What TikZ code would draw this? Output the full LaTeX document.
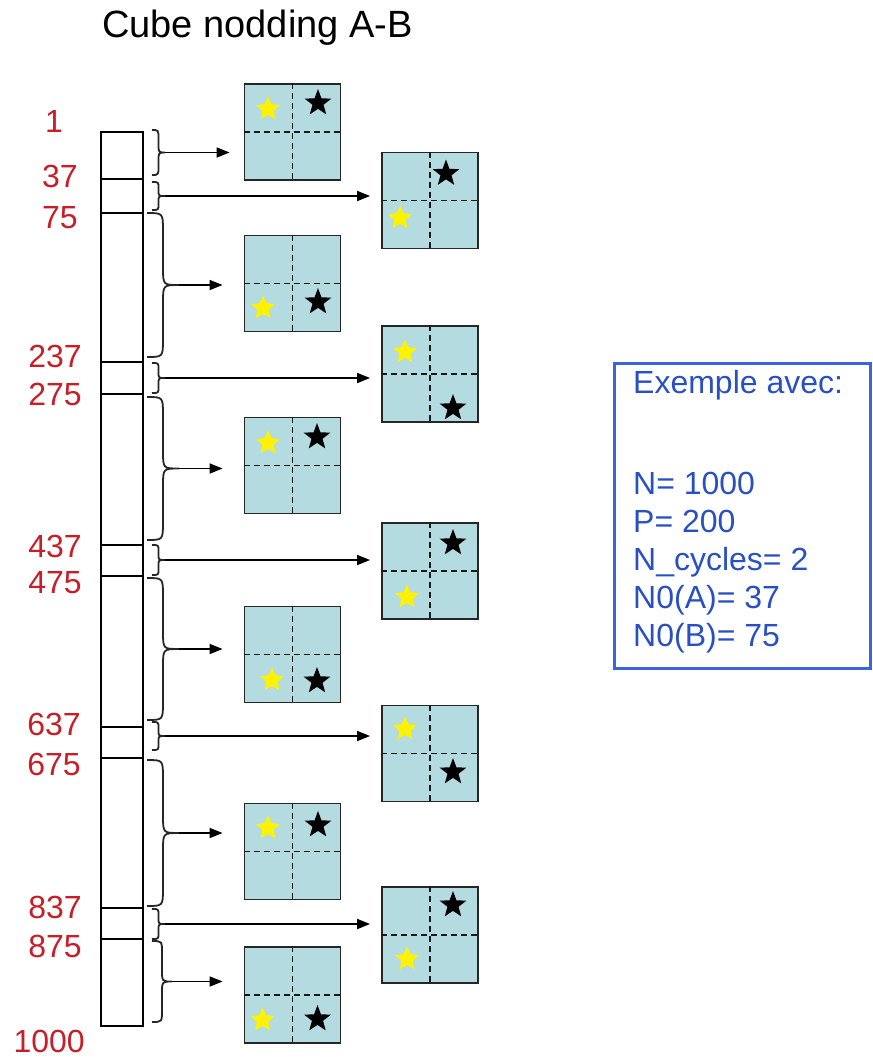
\documentclass[tikz,border=0pt]{standalone}
\usepackage{fontspec}
\setmainfont{Liberation Sans}
\usepackage{xcolor}
\usepackage{tikz}
\usetikzlibrary{arrows.meta,shapes.geometric,calc}

\definecolor{cubefill}{RGB}{180,219,224}
\definecolor{labred}{RGB}{200,30,40}
\definecolor{boxblue}{RGB}{60,100,225}
\definecolor{txtblue}{RGB}{40,80,195}

% one square of the grid, split in four by dashed lines
\newcommand{\gridsq}[3]{%
  \node[sq] (#1) at (#2,#3) {};
  \draw[cut] (#1.north) -- (#1.south);
  \draw[cut] (#1.west) -- (#1.east);
}
% curly brace: name of tip, x, top, bottom, width, curl
\newcommand{\bracegrp}[6]{%
  \pgfmathsetmacro{\ymid}{(#3+#4)/2}
  \draw[brc] (#2,#3) .. controls (#2+#5/2,#3) .. (#2+#5/2,#3+#6)
    -- (#2+#5/2,\ymid-#6) .. controls (#2+#5/2,\ymid) .. (#2+#5,\ymid)
    .. controls (#2+#5/2,\ymid) .. (#2+#5/2,\ymid+#6)
    -- (#2+#5/2,#4-#6) .. controls (#2+#5/2,#4) .. (#2,#4);
  \coordinate (#1) at (#2+#5,\ymid);
}

\begin{document}
\begin{tikzpicture}[x=1pt,y=-1pt,
  >={Triangle[length=13pt,width=10pt]},
  sq/.style={draw=black!85,line width=1.8pt,fill=cubefill,minimum size=96pt,inner sep=0pt},
  cut/.style={line width=1.8pt,black!90,dash pattern=on 6pt off 4pt},
  brc/.style={line width=1.8pt,black!85},
  arr/.style={->,line width=1.6pt},
  arrL/.style={arr,shorten >=21pt},
  arrR/.style={arr,shorten >=11pt},
  ystar/.style={star,star points=5,star point ratio=2.1,fill=yellow,minimum size=25pt,inner sep=0pt},
  kstar/.style={star,star points=5,star point ratio=2.4,fill=black,minimum size=28pt,inner sep=0pt},
  lab/.style={text=labred,font=\fontsize{32}{36}\selectfont,anchor=base east,inner sep=0pt},
  info/.style={text=txtblue,font=\fontsize{32}{36}\selectfont,anchor=base west,inner sep=0pt}]
  \useasboundingbox (0,0) rectangle (873,1058);

  \node[font=\fontsize{38}{44}\selectfont,anchor=base west,inner sep=0pt] (title) at (102,37) {Cube nodding A-B};

  % the bar
  \draw[line width=1.6pt] (101,132) rectangle (143,1026);
  \foreach \y in {179,213,362,394,545,576,727,758,908,939}
    \draw[line width=1.6pt] (101,\y) -- (143,\y);

  \node[lab] (n1) at (63,132) {1};
  \node[lab] (n37) at (78,187) {37};
  \node[lab] (n75) at (78,228) {75};
  \node[lab] (n237) at (82,367) {237};
  \node[lab] (n275) at (82,405) {275};
  \node[lab] (n437) at (82,557) {437};
  \node[lab] (n475) at (82,593) {475};
  \node[lab] (n637) at (81,735) {637};
  \node[lab] (n675) at (81,775) {675};
  \node[lab] (n837) at (82,918) {837};
  \node[lab] (n875) at (82,957) {875};
  \node[lab] (n1000) at (85,1052) {1000};

  % squares
  \gridsq{L1}{292.5}{132}
  \gridsq{R1}{430}{200.5}
  \gridsq{L2}{292.5}{283.5}
  \gridsq{R2}{430}{374}
  \gridsq{L3}{292.5}{465.5}
  \gridsq{R3}{430}{571}
  \gridsq{L4}{292.5}{654.5}
  \gridsq{R4}{430}{753.5}
  \gridsq{L5}{292.5}{851.5}
  \gridsq{R5}{430}{935}
  \gridsq{L6}{292.5}{995}

  \foreach \s/\dx/\dy in {L1/-24.5/-23,R1/-30/17.5,L2/-29.5/24.5,R2/-25/-22,L3/-24.5/-22.5,R3/-23/26,
      L4/-20.5/25.5,R4/-25/-24.5,L5/-24.5/-23.5,R5/-23/24,L6/-30/25}
    \node[ystar] (y\s) at ([shift={(\dx,\dy)}]\s) {};
  \foreach \s/\dx/\dy in {L1/25.5/-29,R1/16/-27,L2/25.5/18.5,R2/23/34,L3/24.5/-28.5,R3/23/-28,
      L4/24.5/26.5,R4/23/18.5,L5/25.5/-26.5,R5/23/-30,L6/25/24}
    \node[kstar] (k\s) at ([shift={(\dx,\dy)}]\s) {};

  % braces
  \bracegrp{t1}{152}{130}{175}{13}{9}
  \bracegrp{t2}{152}{182}{210}{13}{6}
  \bracegrp{t3}{147}{213}{357}{32}{18}
  \bracegrp{t4}{152}{363}{393}{13}{6}
  \bracegrp{t5}{147}{397}{540}{32}{18}
  \bracegrp{t6}{152}{545}{575}{13}{6}
  \bracegrp{t7}{147}{578}{720}{32}{18}
  \bracegrp{t8}{152}{722}{750}{13}{6}
  \bracegrp{t9}{147}{760}{906}{32}{18}
  \bracegrp{t10}{152}{909}{939}{13}{6}
  \bracegrp{t11}{152}{941}{1022}{20}{12}

  \draw[arr,shorten >=14pt] (t1) -- (t1 -| L1.west);
  \draw[arrR] (t2) -- (t2 -| R1.west);
  \draw[arrL] (t3) -- (t3 -| L2.west);
  \draw[arrR] (t4) -- (t4 -| R2.west);
  \draw[arrL] (t5) -- (t5 -| L3.west);
  \draw[arrR] (t6) -- (t6 -| R3.west);
  \draw[arrL] (t7) -- (t7 -| L4.west);
  \draw[arrR] (t8) -- (t8 -| R4.west);
  \draw[arrL] (t9) -- (t9 -| L5.west);
  \draw[arrR] (t10) -- (t10 -| R5.west);
  \draw[arrL] (t11) -- (t11 -| L6.west);

  % example box
  \draw[boxblue,line width=3pt] (614,363) rectangle (870.5,668);
  \node[info] (ex) at (633,393) {Exemple avec:};
  \node[info] (vn) at (633,494) {N= 1000};
  \node[info] (vp) at (633,532) {P= 200};
  \node[info] (vc) at (633,570) {N\_cycles= 2};
  \node[info] (va) at (633,608) {N0(A)= 37};
  \node[info] (vb) at (633,646) {N0(B)= 75};
\end{tikzpicture}
\end{document}
